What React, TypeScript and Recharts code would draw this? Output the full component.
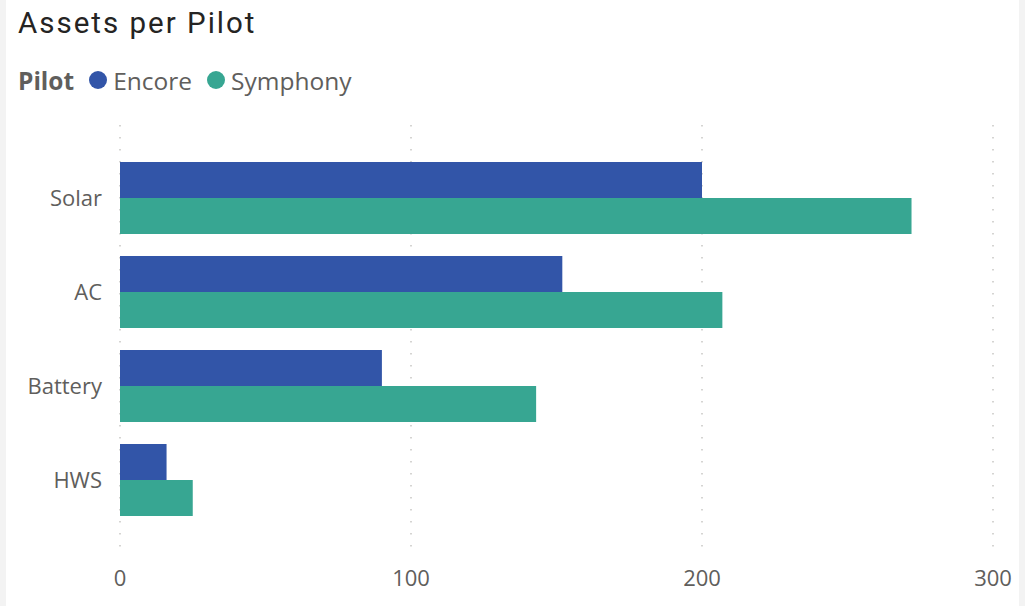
import React from "react";
import { BarChart, Bar, XAxis, YAxis, CartesianGrid } from "recharts";

const categories = ["Solar", "AC", "Battery", "HWS"];
const encoreValues = [200, 152, 90, 16];
const symphonyValues = [272, 207, 143, 25];
const xTicks = [0, 100, 200, 300];
const seriesNames = ["Encore", "Symphony"];
const seriesColors = ["#3255A8", "#37A692"];
const title = "Assets per Pilot";
const legendTitle = "Pilot";

const data = categories.map((c, i) => ({
  name: c,
  Encore: encoreValues[i],
  Symphony: symphonyValues[i],
}));

const font = "'Segoe UI', 'Open Sans', sans-serif";

export default function App() {
  return (
    <div
      style={{
        position: "absolute",
        left: 0,
        top: 0,
        width: 1025,
        height: 606,
        background: "#F3F3F3",
        overflow: "hidden",
      }}
    >
      <div
        style={{
          position: "absolute",
          left: 6,
          top: 0,
          width: 1013,
          height: 606,
          background: "#FFFFFF",
        }}
      />
      <div
        style={{
          position: "absolute",
          left: 18,
          top: 3,
          fontFamily: "Roboto, 'DejaVu Sans', sans-serif",
          fontSize: 29.5,
          fontWeight: 400,
          letterSpacing: 2,
          color: "#252423",
          lineHeight: "40px",
          whiteSpace: "nowrap",
        }}
      >
        {title}
      </div>
      <div
        style={{
          position: "absolute",
          left: 18,
          top: 64,
          height: 32,
          display: "flex",
          alignItems: "center",
          fontFamily: font,
          fontSize: 24.5,
          color: "#605E5C",
          whiteSpace: "nowrap",
        }}
      >
        <span style={{ fontWeight: 700, marginRight: 15 }}>{legendTitle}</span>
        {seriesNames.map((n, i) => (
          <span key={n} style={{ display: "flex", alignItems: "center", marginRight: 15 }}>
            <span
              style={{
                display: "inline-block",
                width: 18,
                height: 18,
                borderRadius: 9,
                background: seriesColors[i],
                marginRight: 6,
              }}
            />
            {n}
          </span>
        ))}
      </div>
      <div style={{ position: "absolute", left: 0, top: 0 }}>
        <BarChart
          width={1025}
          height={606}
          data={data}
          layout="vertical"
          margin={{ top: 125, right: 32, left: 0, bottom: 21 }}
          barCategoryGap={11}
          barGap={0}
        >
          <CartesianGrid
            horizontal={false}
            vertical={true}
            stroke="#C8C6C4"
            strokeWidth={1.5}
            strokeDasharray="1.5 10.5"
          />
          <XAxis
            type="number"
            domain={[0, 300]}
            ticks={xTicks}
            axisLine={false}
            tickLine={false}
            tickSize={0}
            tickMargin={15}
            height={30}
            tick={{ fill: "#605E5C", fontSize: 22, fontFamily: font }}
          />
          <YAxis
            type="category"
            dataKey="name"
            width={120}
            axisLine={false}
            tickLine={false}
            tickSize={0}
            tickMargin={18}
            padding={{ top: 26, bottom: 28 }}
            tick={{ fill: "#605E5C", fontSize: 22, fontFamily: font }}
          />
          {seriesNames.map((n, i) => (
            <Bar key={n} dataKey={n} fill={seriesColors[i]} isAnimationActive={false} />
          ))}
        </BarChart>
      </div>
    </div>
  );
}
